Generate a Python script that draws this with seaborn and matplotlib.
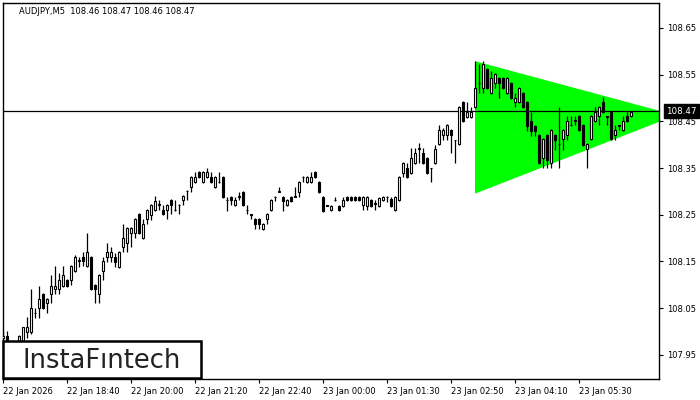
import numpy as np
import pandas as pd
import matplotlib
matplotlib.use("Agg")
import matplotlib.pyplot as plt
from matplotlib.patches import Rectangle, Polygon
import seaborn as sns

# ---------------- data ----------------
opens = [
    107.985, 107.990, 107.975, 107.965, 107.975, 107.980, 107.999, 107.999, 108.039, 108.050,
    108.080, 108.061, 108.080, 108.091, 108.091, 108.097, 108.110, 108.110, 108.129, 108.151,
    108.159, 108.140, 108.159, 108.099, 108.080, 108.129, 108.159, 108.159, 108.159, 108.138,
    108.181, 108.189, 108.211, 108.211, 108.251, 108.200, 108.241, 108.249, 108.260, 108.271,
    108.260, 108.260, 108.281, 108.261, 108.271, 108.281, 108.301, 108.309, 108.320, 108.341,
    108.320, 108.331, 108.331, 108.309, 108.320, 108.331, 108.281, 108.288, 108.271, 108.288,
    108.299, 108.260, 108.251, 108.241, 108.241, 108.219, 108.241, 108.260, 108.288, 108.299,
    108.288, 108.271, 108.288, 108.288, 108.299, 108.331, 108.320, 108.320, 108.341, 108.320,
    108.288, 108.270, 108.260, 108.281, 108.269, 108.269, 108.288, 108.288, 108.288, 108.288,
    108.271, 108.269, 108.281, 108.273, 108.269, 108.281, 108.288, 108.284, 108.260, 108.281,
    108.339, 108.350, 108.339, 108.361, 108.391, 108.382, 108.371, 108.350, 108.361, 108.401,
    108.421, 108.421, 108.431, 108.410, 108.401, 108.491, 108.459, 108.459, 108.481, 108.532,
    108.521, 108.562, 108.511, 108.532, 108.543, 108.543, 108.511, 108.532, 108.491, 108.491,
    108.511, 108.491, 108.451, 108.440, 108.421, 108.371, 108.421, 108.361, 108.421, 108.401,
    108.412, 108.421, 108.442, 108.451, 108.461, 108.442, 108.391, 108.412, 108.451, 108.461,
    108.491, 108.461, 108.470, 108.421, 108.442, 108.431, 108.461, 108.461,
]
highs = [
    108.000, 108.000, 107.980, 107.978, 107.992, 108.010, 108.031, 108.091, 108.050, 108.097,
    108.082, 108.071, 108.121, 108.140, 108.125, 108.140, 108.112, 108.142, 108.163, 108.159,
    108.170, 108.211, 108.161, 108.101, 108.123, 108.159, 108.189, 108.181, 108.168, 108.172,
    108.230, 108.223, 108.223, 108.243, 108.253, 108.241, 108.262, 108.273, 108.290, 108.281,
    108.271, 108.273, 108.283, 108.281, 108.272, 108.292, 108.302, 108.333, 108.341, 108.343,
    108.343, 108.350, 108.341, 108.333, 108.341, 108.333, 108.288, 108.290, 108.288, 108.299,
    108.301, 108.271, 108.252, 108.243, 108.243, 108.232, 108.253, 108.283, 108.289, 108.309,
    108.290, 108.283, 108.290, 108.309, 108.322, 108.332, 108.333, 108.341, 108.343, 108.322,
    108.290, 108.271, 108.271, 108.288, 108.271, 108.288, 108.290, 108.290, 108.290, 108.290,
    108.290, 108.290, 108.283, 108.281, 108.288, 108.290, 108.289, 108.288, 108.290, 108.333,
    108.363, 108.361, 108.393, 108.393, 108.404, 108.393, 108.373, 108.351, 108.399, 108.442,
    108.436, 108.444, 108.433, 108.411, 108.483, 108.493, 108.491, 108.481, 108.579, 108.573,
    108.579, 108.564, 108.558, 108.553, 108.545, 108.545, 108.545, 108.534, 108.511, 108.523,
    108.513, 108.493, 108.470, 108.442, 108.423, 108.414, 108.423, 108.433, 108.423, 108.481,
    108.433, 108.461, 108.461, 108.461, 108.463, 108.444, 108.403, 108.463, 108.481, 108.483,
    108.502, 108.462, 108.472, 108.442, 108.443, 108.461, 108.470, 108.472,
]
lows = [
    107.970, 107.965, 107.960, 107.958, 107.970, 107.975, 107.985, 107.995, 108.029, 108.029,
    108.048, 108.039, 108.061, 108.080, 108.080, 108.095, 108.095, 108.099, 108.127, 108.138,
    108.140, 108.138, 108.089, 108.061, 108.061, 108.110, 108.149, 108.149, 108.138, 108.136,
    108.170, 108.170, 108.181, 108.200, 108.209, 108.198, 108.230, 108.239, 108.258, 108.260,
    108.249, 108.241, 108.251, 108.258, 108.251, 108.271, 108.281, 108.299, 108.318, 108.329,
    108.318, 108.329, 108.318, 108.307, 108.318, 108.286, 108.258, 108.271, 108.269, 108.281,
    108.269, 108.251, 108.241, 108.219, 108.219, 108.217, 108.230, 108.258, 108.279, 108.298,
    108.258, 108.269, 108.277, 108.287, 108.288, 108.320, 108.318, 108.318, 108.329, 108.297,
    108.256, 108.268, 108.258, 108.280, 108.258, 108.267, 108.279, 108.279, 108.279, 108.279,
    108.260, 108.260, 108.267, 108.260, 108.267, 108.279, 108.277, 108.267, 108.258, 108.279,
    108.331, 108.329, 108.337, 108.359, 108.361, 108.359, 108.337, 108.320, 108.359, 108.399,
    108.410, 108.410, 108.382, 108.361, 108.399, 108.449, 108.457, 108.457, 108.479, 108.511,
    108.511, 108.519, 108.509, 108.521, 108.500, 108.519, 108.509, 108.498, 108.481, 108.489,
    108.479, 108.429, 108.419, 108.419, 108.359, 108.350, 108.350, 108.350, 108.389, 108.350,
    108.389, 108.410, 108.441, 108.442, 108.429, 108.397, 108.350, 108.410, 108.449, 108.442,
    108.468, 108.442, 108.410, 108.410, 108.431, 108.429, 108.449, 108.459,
]
closes = [
    107.990, 107.975, 107.965, 107.975, 107.990, 108.009, 108.009, 108.050, 108.040, 108.069,
    108.050, 108.069, 108.097, 108.097, 108.110, 108.121, 108.097, 108.140, 108.159, 108.152,
    108.151, 108.170, 108.091, 108.091, 108.121, 108.151, 108.170, 108.170, 108.149, 108.170,
    108.200, 108.221, 108.221, 108.241, 108.211, 108.230, 108.260, 108.271, 108.279, 108.272,
    108.251, 108.271, 108.271, 108.260, 108.270, 108.290, 108.300, 108.331, 108.331, 108.331,
    108.341, 108.341, 108.320, 108.331, 108.321, 108.288, 108.282, 108.281, 108.281, 108.289,
    108.271, 108.261, 108.250, 108.230, 108.230, 108.230, 108.251, 108.281, 108.287, 108.300,
    108.279, 108.281, 108.279, 108.289, 108.320, 108.330, 108.331, 108.331, 108.331, 108.299,
    108.258, 108.269, 108.269, 108.282, 108.260, 108.281, 108.281, 108.281, 108.281, 108.281,
    108.288, 108.288, 108.269, 108.274, 108.286, 108.288, 108.287, 108.269, 108.288, 108.331,
    108.361, 108.331, 108.371, 108.382, 108.392, 108.361, 108.339, 108.349, 108.391, 108.431,
    108.431, 108.442, 108.421, 108.409, 108.481, 108.451, 108.470, 108.470, 108.521, 108.533,
    108.573, 108.521, 108.543, 108.551, 108.532, 108.521, 108.543, 108.500, 108.500, 108.521,
    108.481, 108.440, 108.429, 108.429, 108.361, 108.412, 108.367, 108.431, 108.410, 108.402,
    108.431, 108.451, 108.443, 108.452, 108.431, 108.399, 108.401, 108.461, 108.470, 108.481,
    108.470, 108.460, 108.412, 108.431, 108.441, 108.451, 108.451, 108.470,
]

x_tick_bars = [0, 16, 32, 48, 64, 80, 96, 112, 128, 144]
x_tick_labels = ["22 Jan 2026", "22 Jan 18:40", "22 Jan 20:00", "22 Jan 21:20",
                 "22 Jan 22:40", "23 Jan 00:00", "23 Jan 01:30", "23 Jan 02:50",
                 "23 Jan 04:10", "23 Jan 05:30"]
y_ticks = [107.95, 108.05, 108.15, 108.25, 108.35, 108.45, 108.55, 108.65]

# triangle pattern vertices (bar index, price)
tri_bars = [118.0, 118.0, 168.25]
tri_prices = [108.579, 108.295, 108.463]

current_price = 108.472
title_text = "AUDJPY,M5  108.46 108.47 108.46 108.47"
logo_text = "InstaF\u0131ntech"

# ---------------- figure ----------------
sns.set_theme(style="white")
plt.rcParams["font.family"] = ["DejaVu Sans"]

df = pd.DataFrame({"open": opens, "high": highs, "low": lows, "close": closes})
df["bar"] = np.arange(len(df))
df["bull"] = df["close"] >= df["open"]
df["bottom"] = df[["open", "close"]].min(axis=1)
df["height"] = (df["close"] - df["open"]).abs().clip(lower=0.0006)

fig = plt.figure(figsize=(7, 4), dpi=100)
fig.patch.set_facecolor("white")
ax = fig.add_axes([3 / 700, 21 / 400, 656 / 700, 376 / 400])
ax.set_facecolor("white")

# triangle
ax.add_patch(Polygon(list(zip(tri_bars, tri_prices)), closed=True,
                     facecolor="#00ff00", edgecolor="none", zorder=1))

# current price line
ax.axhline(current_price, color="black", lw=0.9, zorder=2)

# wicks
ax.vlines(df["bar"], df["low"], df["high"], color="black", lw=0.9, zorder=3)
# bodies
ax.bar(df["bar"], df["height"], bottom=df["bottom"], width=0.5,
       color=np.where(df["bull"], "white", "black"), edgecolor="black",
       linewidth=0.8, zorder=4)

ax.set_xlim(0, 164)
ax.set_ylim(107.898, 108.7035)

for s in ax.spines.values():
    s.set_color("black")
    s.set_linewidth(1.0)
    s.set_visible(True)

ax.yaxis.tick_right()
ax.set_yticks(y_ticks)
ax.set_yticklabels([f"{v:.2f}" for v in y_ticks], fontsize=6, color="black")
ax.set_xticks(x_tick_bars)
ax.set_xticklabels(x_tick_labels, fontsize=6, color="black", ha="left")
ax.tick_params(axis="y", which="both", right=True, left=False, direction="out",
               length=3, width=0.8, color="black", pad=3)
ax.tick_params(axis="x", which="both", bottom=True, direction="out",
               length=3, width=0.8, color="black", pad=3)
ax.grid(False)

# current price label on the right axis
ax.text(1.0 + 7 / 656, current_price, "108.47", transform=ax.get_yaxis_transform(),
        fontsize=6.3, color="white", va="center", ha="left", zorder=6,
        bbox=dict(boxstyle="square,pad=0.25", facecolor="black", edgecolor="black"),
        clip_on=False)

# title
fig.text(19 / 700, 1 - 11 / 400, title_text, fontsize=6, color="black",
         va="center", ha="left")

# logo box
ax.add_patch(Rectangle((3 / 700, 1 - 378 / 400), 198 / 700, 37 / 400,
                       transform=fig.transFigure, facecolor="white",
                       edgecolor="black", linewidth=1.8, zorder=10, clip_on=False))
fig.text(102 / 700, 1 - 368 / 400, logo_text, fontsize=18.5, color="#222222",
         ha="center", va="baseline", zorder=11)

fig.savefig("out.png", dpi=100)
